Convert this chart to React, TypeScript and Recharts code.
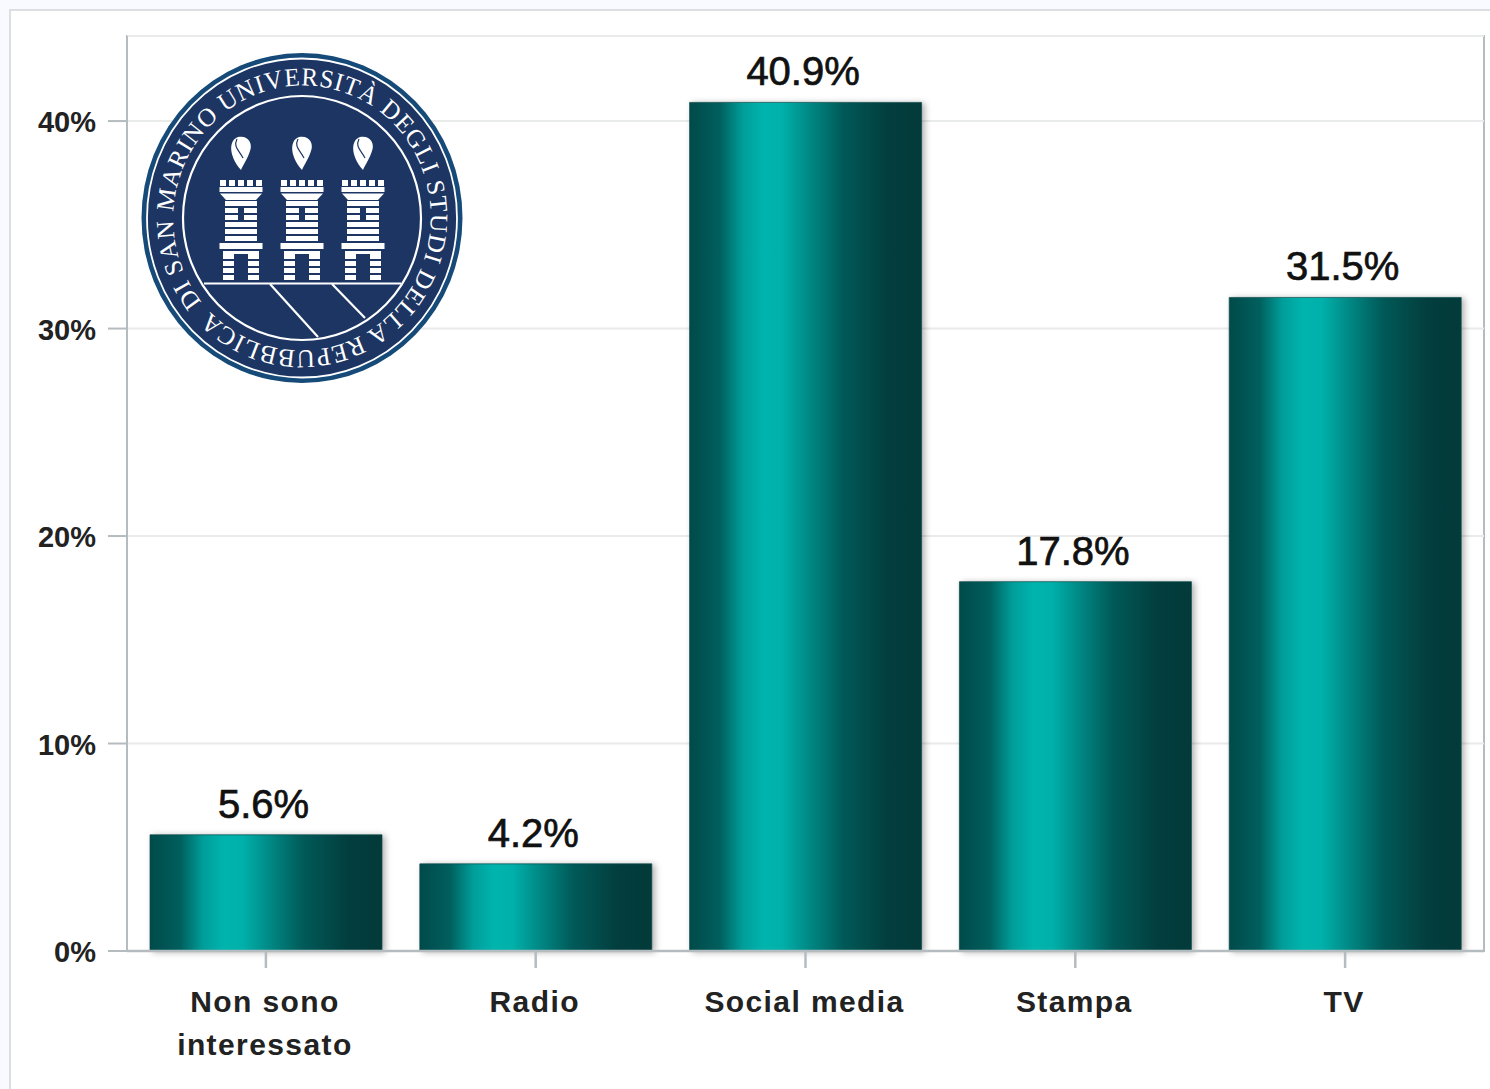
import {Bar, BarChart, CartesianGrid, LabelList, XAxis, YAxis} from 'recharts';

const categories = ['Non sono interessato', 'Radio', 'Social media', 'Stampa', 'TV'];
const shares = [5.6, 4.2, 40.9, 17.8, 31.5];
const yTicks = [0, 10, 20, 30, 40];
const categoryLines: Record<string, string[]> = {
  'Non sono interessato': ['Non sono', 'interessato'],
};

const data = categories.map((name, i) => ({name, share: shares[i]}));

const AXIS = '#b4bcc0';
const NAVY = '#1c3562';
const RING = '#164a78';
const TICK_FONT = {
  fill: '#222',
  fontSize: 30,
  fontWeight: 700,
  fontFamily: '"Liberation Sans", sans-serif',
  letterSpacing: 1.4,
};

function CategoryTick({x, y, payload}: any) {
  const lines = categoryLines[payload.value] ?? [payload.value];
  return (
    <text textAnchor="middle" {...TICK_FONT}>
      {lines.map((line, i) => (
        <tspan key={line} x={x - 1} y={y + 44 + i * 43}>
          {line}
        </tspan>
      ))}
    </text>
  );
}

function ValueTick({x, y, payload}: any) {
  return (
    <text x={x} y={y + 11} textAnchor="end" {...TICK_FONT} fontSize={29} letterSpacing={0}>
      {payload.value}%
    </text>
  );
}

// stripes of one tower, relative to its centre line
const towerBody = [200, 207, 214, 221, 228, 235];
const towerLegs = [253, 260, 267, 274];
const merlons = [-21, -12, -3, 6, 15];

function Tower({cx}: {cx: number}) {
  return (
    <g fill="#fff">
      <path
        d={`M${cx} 170C${cx - 13} 155 ${cx - 12} 140 ${cx - 3} 137C${cx + 7} 135 ${cx + 12} 143 ${cx + 9} 151C${cx + 7} 158 ${cx + 2} 165 ${cx} 170Z`}
      />
      <path d={`M${cx - 4} 139C${cx - 8} 147 ${cx - 2} 150 ${cx + 2} 158`} stroke={NAVY} strokeWidth={1.2} fill="none" />
      {merlons.map((m) => (
        <rect key={m} x={cx + m} y={180} width={6} height={6} />
      ))}
      <rect x={cx - 21.5} y={187} width={43} height={5} />
      <path d={`M${cx - 21} 193.5H${cx + 21}L${cx + 15} 200H${cx - 15}Z`} />
      {towerBody.map((y) => (
        <g key={y}>
          <rect x={cx - 16} y={y + 1} width={y > 206 && y < 220 ? 13 : 32} height={5} />
          {y > 206 && y < 220 && <rect x={cx + 3} y={y + 1} width={13} height={5} />}
        </g>
      ))}
      <rect x={cx - 21.5} y={243} width={43} height={6} />
      <rect x={cx - 18} y={251} width={36} height={3} />
      {towerLegs.map((y) => (
        <g key={y}>
          <rect x={cx - 18} y={y + 1} width={11} height={5} />
          <rect x={cx + 7} y={y + 1} width={11} height={5} />
        </g>
      ))}
    </g>
  );
}

function Seal() {
  const r = 129;
  const d = r * 0.7071;
  return (
    <svg
      width={1490}
      height={1089}
      style={{position: 'absolute', left: 0, top: 0, pointerEvents: 'none'}}
    >
      <defs>
        <path
          id="sealText"
          d={`M${302 - d} ${218 + d}A${r} ${r} 0 0 1 ${302 + d} ${218 - d}A${r} ${r} 0 0 1 ${302 - d} ${218 + d}`}
        />
      </defs>
      <ellipse cx={302} cy={218} rx={160.5} ry={165} fill={RING} />
      <ellipse cx={302} cy={218} rx={155} ry={159.5} fill={NAVY} stroke="#fff" strokeWidth={1.8} />
      <ellipse cx={302} cy={218} rx={119} ry={122} fill={NAVY} stroke="#fff" strokeWidth={2.2} />
      <text
        fill="#fff"
        fontFamily='"Liberation Serif", serif'
        fontSize={25}
        transform="translate(302 218) rotate(4) scale(1 1.03) translate(-302 -218)"
      >
        <textPath href="#sealText" startOffset={4} textLength={795} lengthAdjust="spacing">
          DI SAN MARINO UNIVERSITÀ DEGLI STUDI DELLA REPUBBLICA
        </textPath>
      </text>
      <Tower cx={241} />
      <Tower cx={302} />
      <Tower cx={363} />
      <g stroke="#fff" strokeWidth={2.2} fill="none">
        <path d="M204 283.5H401" />
        <path d="M270 284L318 337" />
        <path d="M332 284L365 318" />
      </g>
    </svg>
  );
}

export default function App() {
  return (
    <div
      style={{
        position: 'absolute',
        left: 0,
        top: 0,
        width: 1490,
        height: 1089,
        overflow: 'hidden',
        background: '#f8faff',
      }}
    >
      <div
        style={{
          position: 'absolute',
          left: 9,
          top: 9,
          width: 1481,
          height: 1080,
          background: '#fff',
          borderLeft: '2px solid #dcdfe2',
          borderTop: '2px solid #dcdfe2',
          boxSizing: 'border-box',
        }}
      />
      <div
        style={{
          position: 'absolute',
          left: 126,
          top: 35,
          width: 1359,
          height: 917,
          border: `2px solid ${AXIS}`,
          boxSizing: 'border-box',
        }}
      />
      <div style={{position: 'absolute', left: 0, top: 0}}>
        <BarChart
          width={1490}
          height={1089}
          data={data}
          barSize={232}
          margin={{top: 36, right: 6, left: 0, bottom: 0}}
        >
          <defs>
            <linearGradient id="tealBar" x1="0" y1="0" x2="1" y2="0">
              <stop offset="0%" stopColor="#004a4a" />
              <stop offset="13%" stopColor="#005f5d" />
              <stop offset="23%" stopColor="#009e9a" />
              <stop offset="32%" stopColor="#00b4ae" />
              <stop offset="40%" stopColor="#00b0aa" />
              <stop offset="50%" stopColor="#008e8a" />
              <stop offset="66%" stopColor="#005a58" />
              <stop offset="86%" stopColor="#033d3d" />
              <stop offset="100%" stopColor="#033a3a" />
            </linearGradient>
          </defs>
          <CartesianGrid horizontal vertical={false} stroke="#e9eaea" strokeWidth={2} />
          <XAxis
            dataKey="name"
            height={138}
            padding={{left: 4, right: 4}}
            interval={0}
            axisLine={{stroke: AXIS, strokeWidth: 2.5}}
            tickLine={{stroke: AXIS, strokeWidth: 2.5}}
            tickSize={17}
            tickMargin={0}
            tick={<CategoryTick />}
          />
          <YAxis
            width={127}
            domain={[0, 44.1]}
            ticks={yTicks}
            axisLine={{stroke: AXIS, strokeWidth: 2}}
            tickLine={{stroke: AXIS, strokeWidth: 2}}
            tickSize={19}
            tickMargin={12}
            tick={<ValueTick />}
          />
          <Bar
            dataKey="share"
            fill="url(#tealBar)"
            stroke="#0b4a4a"
            strokeOpacity={0.7}
            strokeWidth={1}
            isAnimationActive={false}
            style={{filter: 'drop-shadow(3px 1px 3px rgba(0,0,0,0.3))'}}
          >
            <LabelList
              dataKey="share"
              content={(props: any) => (
                <text
                  x={props.x + props.width / 2 - 2.5}
                  y={props.y - 17}
                  textAnchor="middle"
                  fill="#111"
                  stroke="#111"
                  strokeWidth={0.7}
                  fontSize={40}
                  fontFamily='"Liberation Sans", sans-serif'
                >
                  {props.value}%
                </text>
              )}
            />
          </Bar>
        </BarChart>
      </div>
      <Seal />
    </div>
  );
}
